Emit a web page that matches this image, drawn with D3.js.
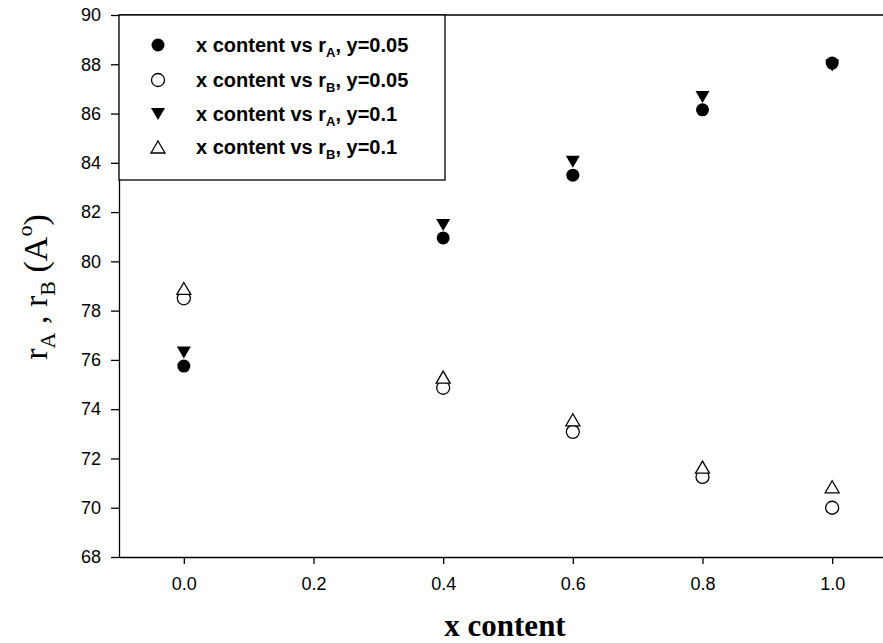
<!DOCTYPE html>
<html>
<head>
<meta charset="utf-8">
<script src="https://cdn.jsdelivr.net/npm/d3@7"></script>
<style>
  body { margin: 0; background: #fff; }
  svg { display: block; }
</style>
</head>
<body>
<div id="chart"></div>
<script>
// values
var xContent = [0.0, 0.4, 0.6, 0.8, 1.0];
var rA_005 = [75.75, 80.95, 83.5, 86.15, 88.05];
var rB_005 = [78.5, 74.87, 73.08, 71.25, 70.0];
var rA_01 = [76.3, 81.48, 84.04, 86.67, 87.95];
var rB_01 = [78.9, 75.3, 73.57, 71.65, 70.85];
var xTicks = [0.0, 0.2, 0.4, 0.6, 0.8, 1.0];
var yTicks = [68, 70, 72, 74, 76, 78, 80, 82, 84, 86, 88, 90];

var series = [
  {name: "r", sub: "A", tail: ", y=0.05", vals: rA_005, shape: "circle", fill: "black"},
  {name: "r", sub: "B", tail: ", y=0.05", vals: rB_005, shape: "circle", fill: "white"},
  {name: "r", sub: "A", tail: ", y=0.1", vals: rA_01, shape: "down", fill: "black"},
  {name: "r", sub: "B", tail: ", y=0.1", vals: rB_01, shape: "up", fill: "white"}
];

function marker(sel, shape) {
  if (shape == "circle") {
    sel.append("circle").attr("r", 6.5);
  } else if (shape == "down") {
    sel.append("path").attr("d", "M-7,-6L7,-6L0,6Z");
  } else {
    sel.append("path").attr("d", "M-7,6L7,6L0,-6Z");
  }
}

function main() {
  var W = 883, H = 643;
  var pLeft = 119, pRight = 897, pTop = 15, pBottom = 557;

  var svg = d3.select("#chart").append("svg")
    .attr("width", W)
    .attr("height", H);

  var x = d3.scaleLinear().domain([-0.1, 1.1]).range([pLeft, pRight]);
  var y = d3.scaleLinear().domain([68, 90]).range([pBottom, pTop]);

  // frame (top + right), axes draw left/bottom
  svg.append("path")
    .attr("d", "M" + pLeft + "," + pTop + "H" + pRight + "V" + pBottom)
    .attr("fill", "none")
    .attr("stroke", "black")
    .attr("stroke-width", 1.3);

  var xAxis = svg.append("g")
    .attr("transform", "translate(0," + pBottom + ")")
    .call(d3.axisBottom(x).tickValues(xTicks).tickSize(7).tickPadding(13).tickSizeOuter(0)
      .tickFormat(d3.format(".1f")));

  var yAxis = svg.append("g")
    .attr("transform", "translate(" + pLeft + ",0)")
    .call(d3.axisLeft(y).tickValues(yTicks).tickSize(8).tickPadding(10).tickSizeOuter(0));

  [xAxis, yAxis].forEach(function(g) {
    g.select(".domain").attr("stroke-width", 1.3);
    g.selectAll(".tick line").attr("stroke-width", 1.3);
    g.selectAll("text")
      .attr("font-family", "Arial, 'Liberation Sans', sans-serif")
      .attr("font-size", 18)
      .attr("fill", "black");
  });

  // points
  series.forEach(function(s) {
    var g = svg.append("g")
      .attr("fill", s.fill)
      .attr("stroke", "black")
      .attr("stroke-width", s.fill == "white" ? 1.3 : 0);
    g.selectAll("g")
      .data(s.vals)
      .enter()
      .append("g")
        .attr("transform", function(d, i) { return "translate(" + x(xContent[i]) + "," + y(d) + ")"; })
        .each(function() { marker(d3.select(this), s.shape); });
  });

  // legend
  svg.append("rect")
    .attr("x", pLeft)
    .attr("y", pTop)
    .attr("width", 445 - pLeft)
    .attr("height", 180 - pTop)
    .attr("fill", "white")
    .attr("stroke", "black")
    .attr("stroke-width", 1.3);

  var rowY = [45, 80, 114, 147];
  series.forEach(function(s, i) {
    var g = svg.append("g")
      .attr("transform", "translate(158," + rowY[i] + ")");
    var m = g.append("g")
      .attr("fill", s.fill)
      .attr("stroke", "black")
      .attr("stroke-width", s.fill == "white" ? 1.3 : 0);
    marker(m, s.shape);
    var t = g.append("text")
      .attr("x", 38)
      .attr("y", 7)
      .attr("font-family", "Arial, 'Liberation Sans', sans-serif")
      .attr("font-weight", "bold")
      .attr("font-size", 20)
      .attr("fill", "black");
    t.append("tspan").text("x content vs " + s.name);
    t.append("tspan").attr("font-size", 13).attr("dy", 5).text(s.sub);
    t.append("tspan").attr("dy", -5).text(s.tail);
  });

  // axis titles
  svg.append("text")
    .attr("x", 505)
    .attr("y", 636)
    .attr("text-anchor", "middle")
    .attr("font-family", "'Times New Roman', 'Liberation Serif', serif")
    .attr("font-weight", "bold")
    .attr("font-size", 31)
    .text("x content");

  var yt = svg.append("text")
    .attr("transform", "translate(47,287) rotate(-90)")
    .attr("text-anchor", "middle")
    .attr("font-family", "'Times New Roman', 'Liberation Serif', serif")
    .attr("font-size", 34);
  yt.append("tspan").text("r");
  yt.append("tspan").attr("font-size", 22).attr("dy", 8).text("A");
  yt.append("tspan").attr("dy", -8).text(" , r");
  yt.append("tspan").attr("font-size", 22).attr("dy", 8).text("B");
  yt.append("tspan").attr("dy", -8).text(" (A");
  yt.append("tspan").attr("font-size", 22).attr("dy", -15).text("o");
  yt.append("tspan").attr("dy", 15).text(")");
}

main();
</script>
</body>
</html>
